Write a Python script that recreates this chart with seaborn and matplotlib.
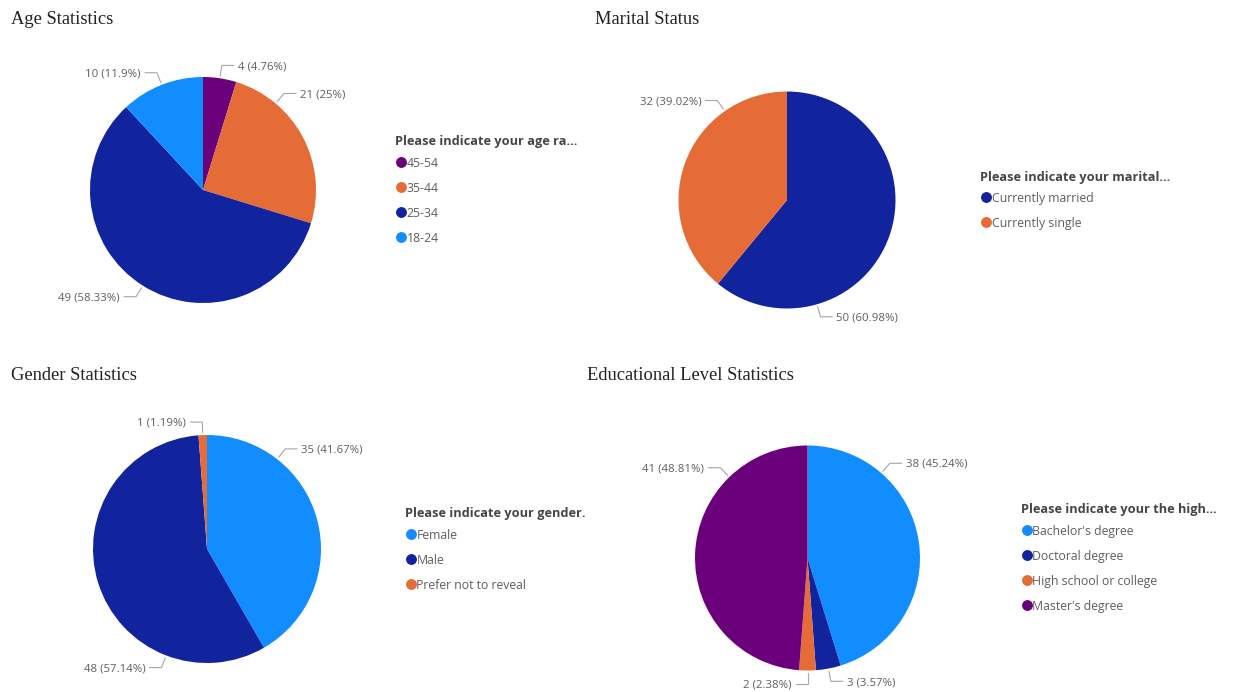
import numpy as np
import matplotlib
matplotlib.use("Agg")
import matplotlib.pyplot as plt
from matplotlib.lines import Line2D
import seaborn as sns

# ---- data -------------------------------------------------------------
age_groups = ["45-54", "35-44", "25-34", "18-24"]
age_counts = [4, 21, 49, 10]

marital_groups = ["Currently married", "Currently single"]
marital_counts = [50, 32]

gender_groups = ["Female", "Male", "Prefer not to reveal"]
gender_counts = [35, 48, 1]

education_groups = ["Bachelor's degree", "Doctoral degree",
                    "High school or college", "Master's degree"]
education_counts = [38, 3, 2, 41]

# ---- palette ----------------------------------------------------------
DARK_BLUE = "#12239E"
ORANGE = "#E66C37"
LIGHT_BLUE = "#118DFF"
PURPLE = "#6B007B"

sns.set_style("white")
plt.rcParams["font.family"] = ["Open Sans", "DejaVu Sans"]

W, H = 1252, 692
fig = plt.figure(figsize=(W / 100, H / 100), dpi=100)
fig.patch.set_facecolor("white")

LABEL_COLOR = "#605E5C"
LEADER_COLOR = "#A6A6A6"
LEGEND_TITLE_COLOR = "#454545"


def fx(x):
    return x / W


def fy(y):
    return 1 - y / H


def fmt_pct(v):
    return f"{v:.2f}".rstrip("0").rstrip(".")


def draw_pie(title, title_xy, labels, counts, colors, center, radius,
             label_angles, legend_title, legend_xy):
    cx, cy = center
    half = 160
    ax = fig.add_axes([fx(cx - half), fy(cy + half), 2 * half / W, 2 * half / H])
    ax.pie(counts, colors=colors, startangle=90, counterclock=False,
           radius=1, wedgeprops=dict(linewidth=0))
    lim = half / radius
    ax.set_xlim(-lim, lim)
    ax.set_ylim(-lim, lim)
    ax.set_aspect("equal")
    ax.axis("off")

    total = float(sum(counts))
    cum = np.cumsum([0] + list(counts)) / total
    px = 1.0 / radius  # one pixel in data units
    for i, c in enumerate(counts):
        mid = 90 - 360 * (cum[i] + cum[i + 1]) / 2
        ang = label_angles[i] if label_angles[i] is not None else mid
        t = np.deg2rad(ang)
        d = np.array([np.cos(t), np.sin(t)])
        p0 = d * (1 + 2.5 * px)
        p1 = d * (1 + 13 * px)
        right = np.cos(t) > 1e-6
        sgn = 1 if right else -1
        p2 = p1 + np.array([sgn * 12 * px, 0])
        ax.plot([p0[0], p1[0], p2[0]], [p0[1], p1[1], p2[1]],
                color=LEADER_COLOR, lw=0.8, clip_on=False)
        pct = 100 * c / total
        ax.text(p2[0] + sgn * 4 * px, p2[1] - 1.2 * px, f"{c} ({fmt_pct(pct)}%)",
                ha="left" if right else "right", va="center",
                fontsize=8.2, color=LABEL_COLOR, clip_on=False)

    fig.text(fx(title_xy[0]), fy(title_xy[1]), title, ha="left", va="center",
             fontsize=13.3, family="Liberation Serif", color="#222222")

    lx, ly = legend_xy
    fig.text(fx(lx), fy(ly + 1), legend_title, ha="left", va="center",
             fontsize=9.2, fontweight="bold", color=LEGEND_TITLE_COLOR)
    for j, (lab, col) in enumerate(zip(labels, colors)):
        yy = ly + 21 + 25 * j
        fig.add_artist(Line2D([fx(lx + 5.5)], [fy(yy)], marker="o",
                              markersize=6.8, color=col, linestyle="none",
                              transform=fig.transFigure))
        fig.text(fx(lx + 11.5), fy(yy + 1.5), lab, ha="left", va="center",
                 fontsize=8.8, color=LABEL_COLOR)


draw_pie("Age Statistics", (11, 19), age_groups, age_counts,
         [PURPLE, ORANGE, DARK_BLUE, LIGHT_BLUE], (203, 190), 113,
         [None, 50, None, None], "Please indicate your age ra...", (395, 141))

draw_pie("Marital Status", (595, 19), marital_groups, marital_counts,
         [DARK_BLUE, ORANGE], (787, 200), 108.5,
         [-74, 125], "Please indicate your marital...", (980, 176))

draw_pie("Gender Statistics", (11, 376), gender_groups, gender_counts,
         [LIGHT_BLUE, DARK_BLUE, ORANGE], (207, 549), 114,
         [52, -111, None], "Please indicate your gender.", (405, 513))

draw_pie("Educational Level Statistics", (587, 376), education_groups,
         education_counts, [LIGHT_BLUE, DARK_BLUE, ORANGE, PURPLE],
         (807.5, 558), 112.5, [49, None, None, 134],
         "Please indicate your the high...", (1021, 509))

fig.savefig("out.png", dpi=100, facecolor="white")
